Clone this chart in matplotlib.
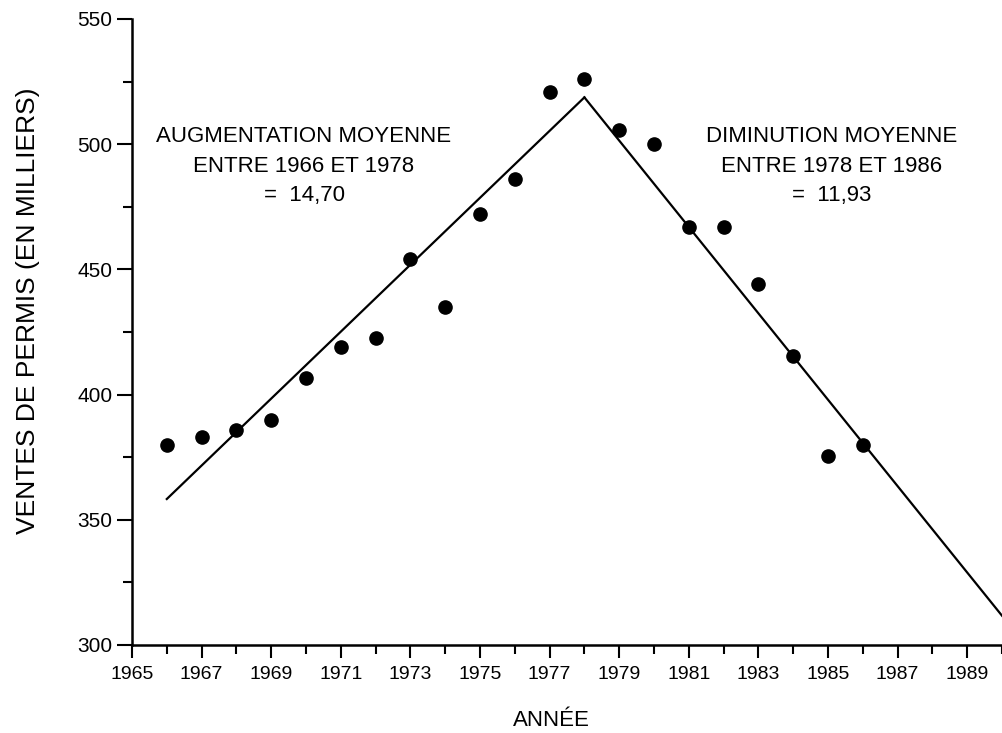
import numpy as np
import matplotlib.pyplot as plt
from matplotlib.ticker import MultipleLocator

plt.rcParams['font.family'] = ['Liberation Sans', 'DejaVu Sans']

# ventes de permis (en milliers)
annees = [1966, 1967, 1968, 1969, 1970, 1971, 1972, 1973, 1974, 1975, 1976,
          1977, 1978, 1979, 1980, 1981, 1982, 1983, 1984, 1985, 1986]
ventes = [380, 383, 386, 390, 406.5, 419, 422.5, 454, 435, 472, 486,
          521, 526, 505.5, 500, 467, 467, 444, 415.5, 375.5, 380]

# droites de tendance (extremites)
hausse_x = [1966, 1978]
hausse_y = [358.3, 518.7]
baisse_x = [1978, 1990]
baisse_y = [518.7, 311.7]

fig = plt.figure(figsize=(10.02, 7.33), dpi=100)
ax = fig.add_axes([132 / 1002, 88 / 733, 870 / 1002, 626 / 733])

ax.plot(annees, ventes, 'o', color='black', markersize=9.5)
ax.plot(hausse_x, hausse_y, color='black', lw=1.6)
ax.plot(baisse_x, baisse_y, color='black', lw=1.6)

ax.set_xlim(1965, 1990)
ax.set_ylim(300, 550)
ax.xaxis.set_minor_locator(MultipleLocator(1))
ax.set_xticks(np.arange(1965, 1990, 2))
ax.yaxis.set_major_locator(MultipleLocator(50))
ax.yaxis.set_minor_locator(MultipleLocator(25))

for s in ['top', 'right']:
    ax.spines[s].set_visible(False)
for s in ['left', 'bottom']:
    ax.spines[s].set_linewidth(1.8)

ax.tick_params(axis='x', which='major', length=9.4, width=1.5, labelsize=14, pad=6)
ax.tick_params(axis='x', which='minor', length=6.5, width=1.5)
ax.tick_params(axis='y', which='major', length=10.8, width=1.5, labelsize=15, pad=3.5)
ax.tick_params(axis='y', which='minor', length=6.5, width=1.5)

fig.text(28 / 1002, 1 - 311 / 733, 'VENTES DE PERMIS (EN MILLIERS)', rotation=90,
         ha='center', va='center', fontsize=19)
fig.text(551 / 1002, 1 - 721 / 733, 'ANNÉE', ha='center', va='center', fontsize=16)

fig.text(304 / 1002, 1 - 166 / 733,
         'AUGMENTATION MOYENNE\nENTRE 1966 ET 1978\n=  14,70',
         ha='center', va='center', fontsize=16, linespacing=1.55)
fig.text(832 / 1002, 1 - 166 / 733,
         'DIMINUTION MOYENNE\nENTRE 1978 ET 1986\n=  11,93',
         ha='center', va='center', fontsize=16, linespacing=1.55)

fig.savefig('out.png', dpi=100)
